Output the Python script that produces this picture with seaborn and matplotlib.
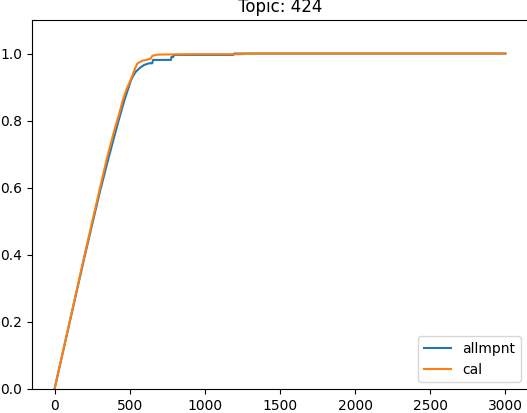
import matplotlib
matplotlib.use("Agg")
import matplotlib.pyplot as plt
import seaborn as sns
import pandas as pd

title = "Topic: 424"
series_names = ["allmpnt", "cal"]

allmpnt_x = [0, 200, 300, 360, 420, 445, 465, 490, 509, 525, 541, 570, 596, 629,
             650, 655, 775, 778, 790, 795, 1190, 1195, 3000]
allmpnt_y = [0, 0.395, 0.585, 0.69, 0.79, 0.83, 0.861, 0.895, 0.921, 0.935, 0.946,
             0.958, 0.966, 0.971, 0.971, 0.981, 0.981, 0.99, 0.99, 0.996, 0.996, 1.0, 1.0]

cal_x = [0, 200, 300, 350, 400, 430, 454, 480, 500, 519, 535, 552, 570, 585, 610,
         624, 640, 650, 673, 700, 891, 1255, 1260, 3000]
cal_y = [0, 0.4, 0.595, 0.69, 0.775, 0.82, 0.861, 0.895, 0.915, 0.936, 0.955, 0.971,
         0.975, 0.979, 0.981, 0.983, 0.985, 0.993, 0.996, 0.997, 0.998, 0.998, 1.0, 1.0]

x_ticks = [0, 500, 1000, 1500, 2000, 2500, 3000]
y_ticks = [0.0, 0.2, 0.4, 0.6, 0.8, 1.0]

df = pd.concat([
    pd.DataFrame({"x": allmpnt_x, "y": allmpnt_y, "series": series_names[0]}),
    pd.DataFrame({"x": cal_x, "y": cal_y, "series": series_names[1]}),
], ignore_index=True)

fig = plt.figure(figsize=(5.27, 4.13), dpi=100)
ax = fig.add_axes([32 / 527, 24 / 413, 496 / 527, 369 / 413])
sns.lineplot(data=df, x="x", y="y", hue="series", palette=["#1f77b4", "#ff7f0e"],
             ax=ax, linewidth=1.5, estimator=None, sort=False)
ax.set_ylim(0, 1.1)
ax.set_xlim(-150, 3150)
ax.set_xticks(x_ticks)
ax.set_yticks(y_ticks)
ax.set_xlabel("")
ax.set_ylabel("")
ax.set_title(title)
handles, labels = ax.get_legend_handles_labels()
ax.legend(handles, labels, loc="lower right")
fig.savefig("out.png", dpi=100)
